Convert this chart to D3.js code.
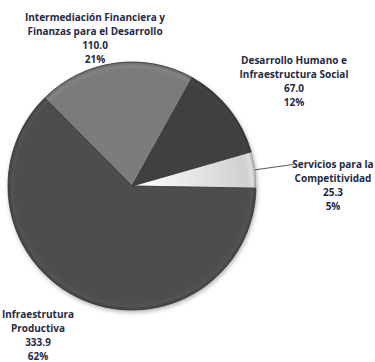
<!DOCTYPE html>
<html><head><meta charset="utf-8">
<script src="https://cdn.jsdelivr.net/npm/d3@7"></script>
<style>
html,body{margin:0;padding:0;background:#fff;}
svg{display:block;}
text{font-family:"Open Sans",sans-serif;font-weight:bold;fill:#1f2a44;font-size:10px;}
</style></head>
<body>
<script>
const categories = ["Servicios para la Competitividad","Desarrollo Humano e Infraestructura Social","Intermediación Financiera y Finanzas para el Desarrollo","Infraestrutura Productiva"];
const values = [25.3, 67.0, 110.0, 333.9];
const valueLabels = ["25.3","67.0","110.0","333.9"];
const pctLabels = ["5%","12%","21%","62%"];
const labelLines = [
  ["Servicios para la","Competitividad"],
  ["Desarrollo Humano e","Infraestructura Social"],
  ["Intermediación Financiera y","Finanzas para el Desarrollo"],
  ["Infraestrutura","Productiva"]
];

const W=375,H=362;
const cx=132, cy=186, r=124;
const svg=d3.select("body").append("svg").attr("width",W).attr("height",H);
const defs=svg.append("defs");
const baseColors=["#d0d0d0","#3f3f3f","#7a7a7a","#4d4d4d"];
baseColors.forEach((c,i)=>{
  const g=defs.append("radialGradient").attr("id","g"+i).attr("gradientUnits","userSpaceOnUse")
    .attr("cx",0).attr("cy",0).attr("r",r);
  const col=d3.color(c);
  g.append("stop").attr("offset","0%").attr("stop-color",col.brighter(i===0?0.6:0.05));
  g.append("stop").attr("offset","93%").attr("stop-color",col);
  g.append("stop").attr("offset","97%").attr("stop-color",col.brighter(0.2));
  g.append("stop").attr("offset","100%").attr("stop-color",col.darker(0.5));
});
const f=defs.append("filter").attr("id","sh").attr("x","-10%").attr("y","-10%").attr("width","130%").attr("height","130%");
f.append("feDropShadow").attr("dx",1).attr("dy",2).attr("stdDeviation",2).attr("flood-color","#000").attr("flood-opacity",0.3);

const startDeg=91;
const pie=d3.pie().sort(null).value(d=>d)
  .startAngle(startDeg*Math.PI/180).endAngle((startDeg-360)*Math.PI/180);
const arcs=pie(values);
const arc=d3.arc().innerRadius(0).outerRadius(r);
const g=svg.append("g").attr("transform",`translate(${cx},${cy})`).attr("filter","url(#sh)");
g.selectAll("path").data(arcs).join("path")
  .attr("d",arc).attr("fill",(d,i)=>`url(#g${i})`)
  .attr("stroke",(d,i)=>i===0?"#999":"#333").attr("stroke-width",0.8);

const labelPos=[
  {x:333,y:168},
  {x:294,y:64},
  {x:95,y:21},
  {x:38,y:318}
];
const lh=13.9;
categories.forEach((c,i)=>{
  const lines=labelLines[i].concat([valueLabels[i],pctLabels[i]]);
  const t=svg.append("text").attr("text-anchor","middle");
  lines.forEach((l,j)=>{
    t.append("tspan").attr("x",labelPos[i].x).attr("y",labelPos[i].y+j*lh).text(l);
  });
});
const mid=(arcs[0].startAngle+arcs[0].endAngle)/2;
const p0=[cx+Math.sin(mid)*r, cy-Math.cos(mid)*r];
svg.append("polyline").attr("points",`${p0[0]},${p0[1]} 293,164.5`)
  .attr("fill","none").attr("stroke","#555").attr("stroke-width",1);
</script>
</body></html>
